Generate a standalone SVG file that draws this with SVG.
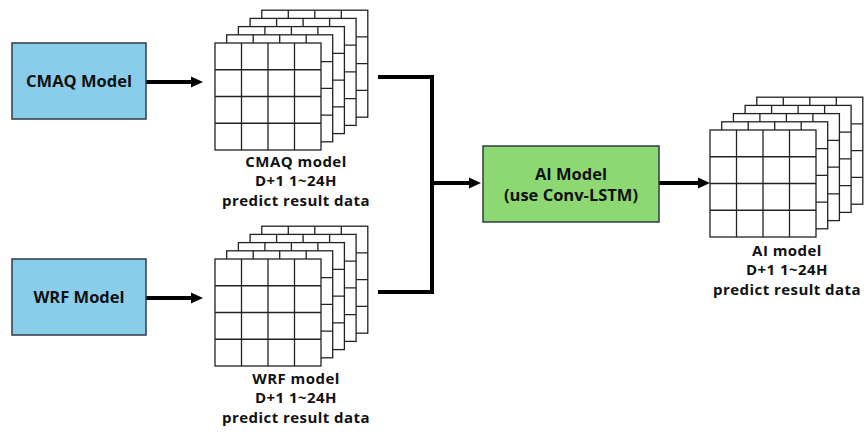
<svg xmlns="http://www.w3.org/2000/svg" xmlns:xlink="http://www.w3.org/1999/xlink" width="866" height="432" viewBox="0 0 866 432">
<style>
  .box-blue { fill: #8ACDEB; stroke: #2E3B45; stroke-width: 1.5; }
  .box-green { fill: #8ED873; stroke: #2E3B45; stroke-width: 1.5; }
  .label { font-family: "Open Sans", "Noto Sans", sans-serif; font-weight: bold; font-size: 16.5px; fill: #111; text-anchor: middle; }
  .cap { font-family: "Open Sans", "Noto Sans", sans-serif; font-weight: bold; font-size: 15px; letter-spacing: 0.45px; fill: #111; text-anchor: middle; }
  .conn { fill: none; stroke: #000; stroke-width: 4; }
  .grid { fill: #fff; stroke: #222; stroke-width: 1.3; }
  .gl { stroke: #222; stroke-width: 1.3; }
</style>
<defs>
  <marker id="arrow" markerUnits="userSpaceOnUse" markerWidth="12" markerHeight="12" refX="0" refY="5.5" orient="auto" overflow="visible">
    <path d="M0,0 L12,5.5 L0,11 z" fill="#000"/>
  </marker>
  <g id="layer">
    <rect class="grid" x="0" y="0" width="106" height="107"/>
    <line class="gl" x1="26.5" y1="0" x2="26.5" y2="107"/>
    <line class="gl" x1="53" y1="0" x2="53" y2="107"/>
    <line class="gl" x1="79.5" y1="0" x2="79.5" y2="107"/>
    <line class="gl" x1="0" y1="26.75" x2="106" y2="26.75"/>
    <line class="gl" x1="0" y1="53.5" x2="106" y2="53.5"/>
    <line class="gl" x1="0" y1="80.25" x2="106" y2="80.25"/>
  </g>
  <g id="stack">
    <use xlink:href="#layer" x="46.8" y="-32.8"/>
    <use xlink:href="#layer" x="35.1" y="-24.6"/>
    <use xlink:href="#layer" x="23.4" y="-16.4"/>
    <use xlink:href="#layer" x="11.7" y="-8.2"/>
    <use xlink:href="#layer" x="0" y="0"/>
  </g>
</defs>

<g id="connectors">
  <line class="conn" x1="146" y1="82" x2="191" y2="82" marker-end="url(#arrow)"/>
  <line class="conn" x1="146" y1="298" x2="191" y2="298" marker-end="url(#arrow)"/>
  <path class="conn" d="M378,77 L432,77 L432,292 L378,292"/>
  <line class="conn" x1="432" y1="183" x2="469" y2="183" marker-end="url(#arrow)"/>
  <line class="conn" x1="659" y1="183" x2="698" y2="183" marker-end="url(#arrow)"/>
</g>

<g id="cmaq-model">
  <rect class="box-blue" x="12" y="43" width="134" height="76"/>
  <text class="label" x="79" y="87">CMAQ Model</text>
</g>

<g id="wrf-model">
  <rect class="box-blue" x="12" y="259" width="134" height="76"/>
  <text class="label" x="79" y="303">WRF Model</text>
</g>

<g id="cmaq-data">
  <use xlink:href="#stack" x="215" y="43"/>
  <text class="cap" x="296" y="166.5">CMAQ model</text>
  <text class="cap" x="296" y="186">D+1 1~24H</text>
  <text class="cap" x="296" y="205.5">predict result data</text>
</g>

<g id="wrf-data">
  <use xlink:href="#stack" x="215" y="259"/>
  <text class="cap" x="296" y="383.5">WRF model</text>
  <text class="cap" x="296" y="403">D+1 1~24H</text>
  <text class="cap" x="296" y="422.5">predict result data</text>
</g>

<g id="ai-model">
  <rect class="box-green" x="483" y="146" width="176" height="76"/>
  <text class="label" x="571" y="180">AI Model</text>
  <text class="label" x="571" y="201">(use Conv-LSTM)</text>
</g>

<g id="ai-data">
  <use xlink:href="#stack" x="710" y="130"/>
  <text class="cap" x="787" y="255.5">AI model</text>
  <text class="cap" x="787" y="275">D+1 1~24H</text>
  <text class="cap" x="787" y="294.5">predict result data</text>
</g>
</svg>
